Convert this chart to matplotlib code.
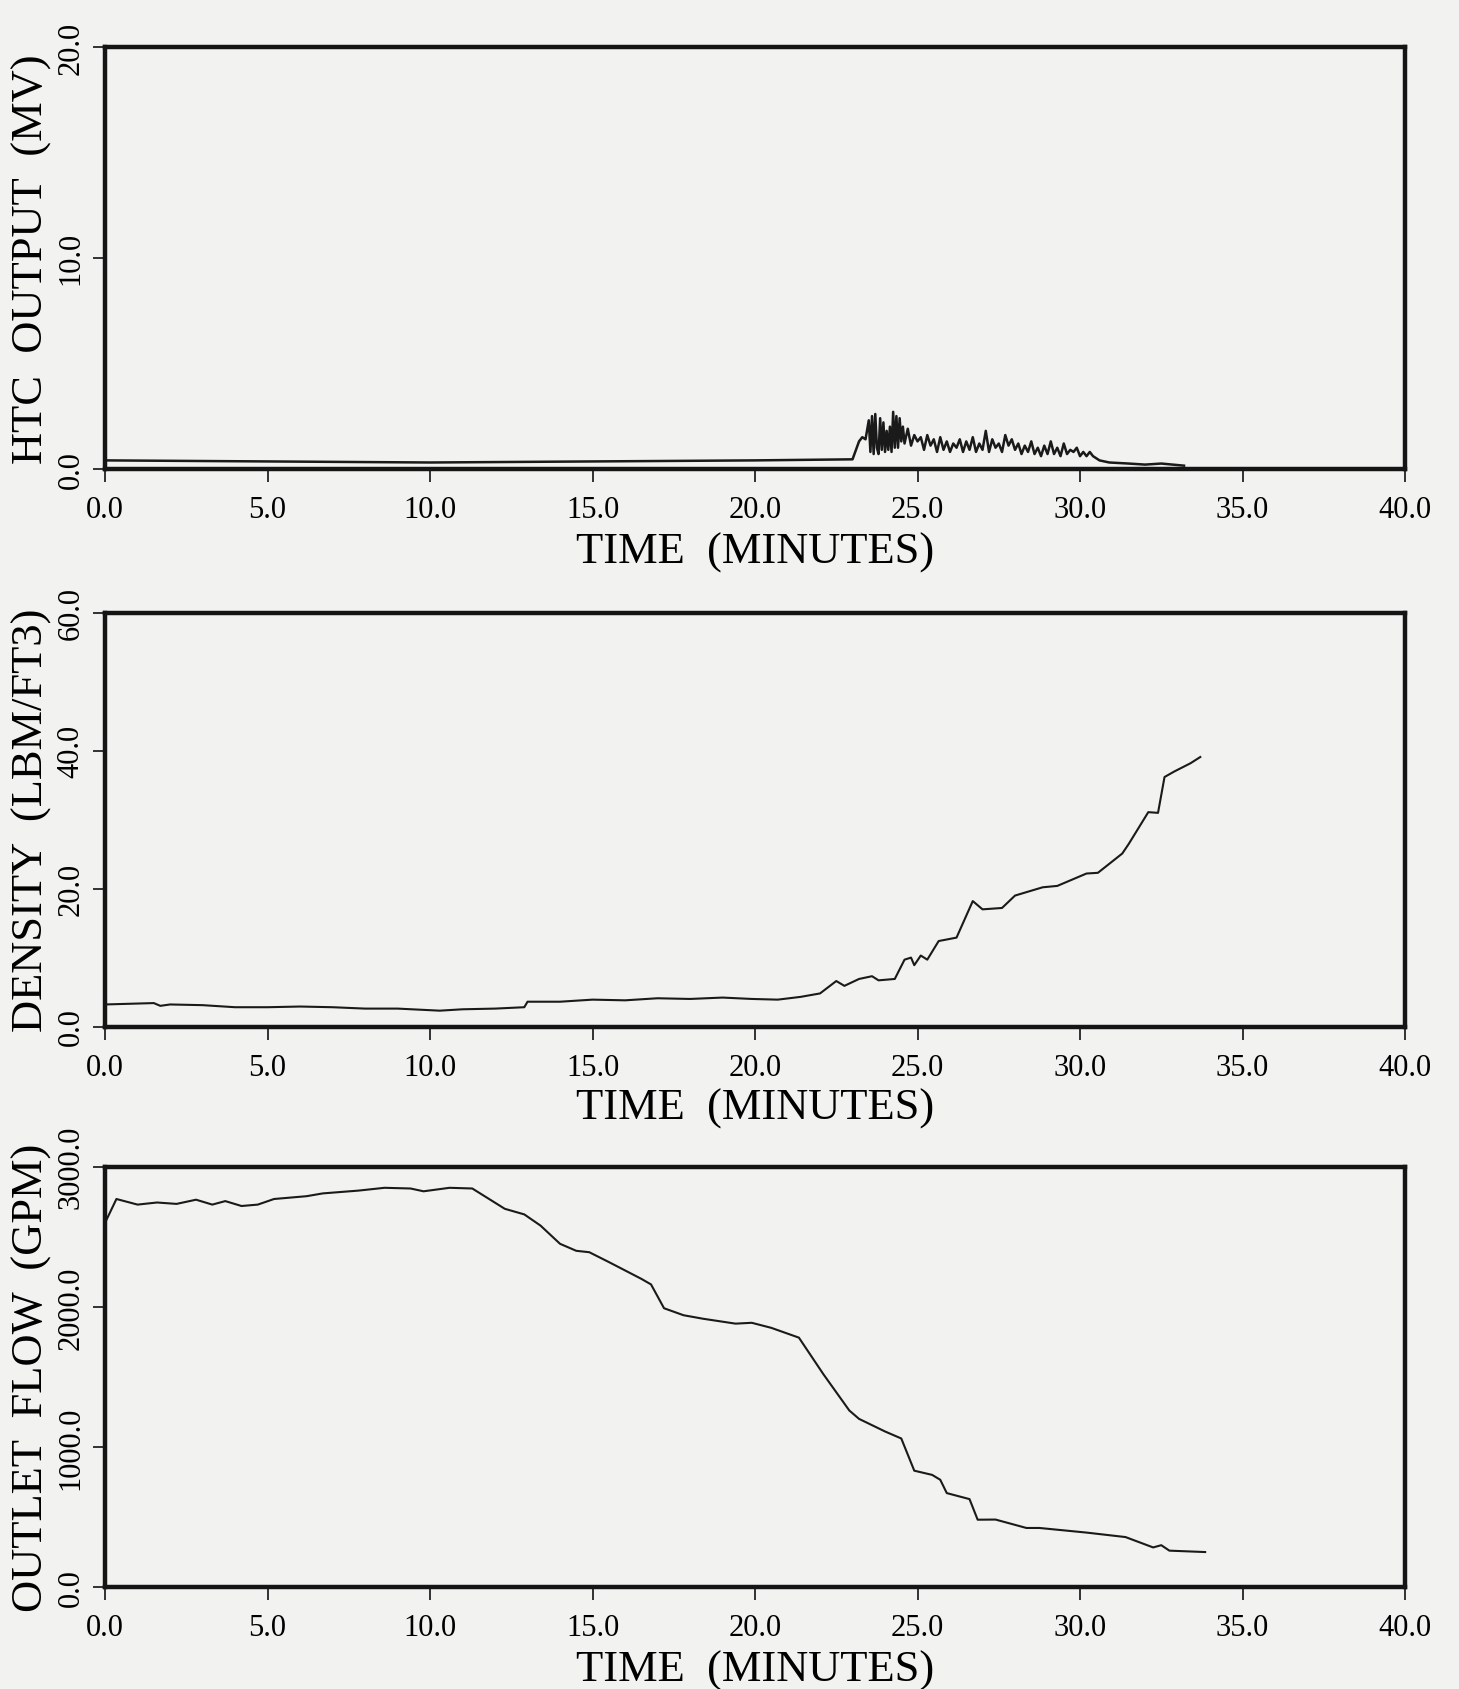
import matplotlib.pyplot as plt

# HTC output (MV) vs time (minutes)
htc_time = [0.0, 5.0, 10.0, 15.0, 20.0, 23.0,
            23.2, 23.3, 23.4, 23.5, 23.55, 23.6, 23.65, 23.7, 23.75, 23.8,
            23.85, 23.9, 23.95, 24.0, 24.05, 24.1, 24.15, 24.2, 24.25, 24.3,
            24.35, 24.4, 24.45, 24.5, 24.55, 24.6, 24.7, 24.8, 24.9, 25.0,
            25.1, 25.2, 25.3, 25.4, 25.5, 25.6, 25.7, 25.8, 25.9, 26.0,
            26.1, 26.2, 26.3, 26.4, 26.5, 26.6, 26.7, 26.8, 26.9, 27.0,
            27.1, 27.2, 27.3, 27.4, 27.5, 27.6, 27.7, 27.8, 27.9, 28.0,
            28.1, 28.2, 28.3, 28.4, 28.5, 28.6, 28.7, 28.8, 28.9, 29.0,
            29.1, 29.2, 29.3, 29.4, 29.5, 29.6, 29.7, 29.8, 29.9, 30.0,
            30.1, 30.2, 30.3, 30.4, 30.5, 30.6,
            30.9, 31.5, 32.0, 32.5, 33.2]
htc_mv = [0.40, 0.35, 0.30, 0.35, 0.40, 0.45,
          1.3, 1.5, 1.4, 2.3, 0.8, 2.5, 0.7, 2.6, 1.0, 0.7,
          2.4, 0.9, 2.2, 0.8, 1.8, 0.9, 2.0, 0.8, 2.7, 1.0,
          2.5, 1.0, 2.4, 1.3, 2.0, 1.2, 1.9, 1.1, 1.6, 1.3,
          1.5, 0.9, 1.6, 1.1, 1.4, 0.8, 1.5, 0.9, 1.3, 0.8,
          1.2, 1.0, 1.4, 0.8, 1.3, 0.9, 1.5, 0.8, 1.2, 0.9,
          1.8, 0.8, 1.4, 1.0, 1.2, 0.8, 1.6, 1.1, 1.4, 0.9,
          1.2, 0.7, 1.1, 0.8, 1.3, 0.7, 1.0, 0.6, 1.1, 0.7,
          1.3, 0.7, 1.0, 0.6, 1.2, 0.7, 0.9, 0.8, 1.0, 0.6,
          0.8, 0.6, 0.8, 0.6, 0.5, 0.4,
          0.30, 0.25, 0.20, 0.25, 0.15]

# density (LBM/FT3) vs time
dens_time = [0.0, 1.5, 1.7, 2.0, 3.0, 4.0, 5.0, 6.0, 7.0, 8.0, 9.0, 10.3,
             11.0, 12.0, 12.9, 13.0, 14.0, 15.0, 16.0, 17.0, 18.0, 19.0,
             19.9, 20.7, 21.4, 22.0, 22.5, 22.75, 23.2, 23.6, 23.8, 24.3,
             24.6, 24.8, 24.9, 25.1, 25.3, 25.65, 26.2, 26.7, 27.0, 27.6,
             28.0, 28.85, 29.3, 30.2, 30.55, 31.3, 31.5, 32.1, 32.4, 32.6,
             32.9, 33.4, 33.7]
dens_val = [3.2, 3.4, 3.0, 3.2, 3.1, 2.8, 2.8, 2.9, 2.8, 2.6, 2.6, 2.3,
            2.5, 2.6, 2.8, 3.6, 3.6, 3.9, 3.8, 4.1, 4.0, 4.2,
            4.0, 3.9, 4.3, 4.8, 6.6, 5.9, 6.9, 7.3, 6.7, 6.9,
            9.7, 10.0, 8.9, 10.3, 9.7, 12.4, 12.9, 18.2, 17.0, 17.2,
            19.0, 20.2, 20.4, 22.2, 22.3, 25.1, 26.5, 31.1, 31.0, 36.2,
            37.0, 38.2, 39.1]

# outlet flow (GPM) vs time
flow_time = [0.0, 0.35, 1.0, 1.6, 2.2, 2.8, 3.3, 3.7, 4.2, 4.7, 5.2, 6.2,
             6.7, 7.8, 8.6, 9.4, 9.8, 10.6, 11.3, 12.3, 12.9, 13.4, 14.0,
             14.5, 14.9, 15.5, 16.5, 16.8, 17.2, 17.8, 18.4, 19.4, 19.9,
             20.5, 21.35, 22.1, 22.9, 23.2, 24.0, 24.5, 24.9, 25.45, 25.7,
             25.9, 26.6, 26.85, 27.4, 28.35, 28.75, 30.2, 31.4, 32.25, 32.5,
             32.75, 33.85]
flow_gpm = [2600, 2770, 2730, 2745, 2735, 2765, 2730, 2755, 2720, 2730, 2770, 2790,
            2810, 2830, 2850, 2845, 2825, 2850, 2845, 2700, 2660, 2580, 2450,
            2400, 2390, 2320, 2200, 2160, 1990, 1940, 1915, 1880, 1886,
            1850, 1780, 1520, 1260, 1200, 1110, 1060, 830, 800, 765,
            670, 627, 480, 481, 421, 421, 388, 356, 282, 298,
            259, 249]

x_ticks = [0, 5, 10, 15, 20, 25, 30, 35, 40]

plt.rcParams['font.family'] = ['Liberation Serif', 'DejaVu Serif']
bg = '#f2f2f0'


def setup_axes(ax, ylim, yticks, ylabel):
    ax.set_facecolor(bg)
    ax.set_xlim(0, 40)
    ax.set_ylim(*ylim)
    ax.set_xticks(x_ticks)
    ax.set_xticklabels([f'{v:.1f}' for v in x_ticks])
    ax.set_yticks(yticks)
    ax.set_yticklabels([f'{v:.1f}' for v in yticks], rotation=90, va='center')
    for s in ax.spines.values():
        s.set_linewidth(3.2)
        s.set_color('#151515')
    ax.tick_params(axis='both', direction='out', length=9, width=1.3,
                   labelsize=22, color='#222222')
    ax.tick_params(axis='x', pad=10)
    ax.tick_params(axis='y', pad=5)
    ax.set_xlabel('TIME  (MINUTES)', fontsize=32)
    ax.xaxis.set_label_coords(0.5, -0.148)
    ax.set_ylabel(ylabel, fontsize=32)
    ax.yaxis.set_label_coords(-0.041, 0.5)


fig = plt.figure(figsize=(14.59, 16.9), dpi=100, facecolor=bg)

ax1 = fig.add_axes([0.072, 0.722, 0.891, 0.2496])
ax1.plot(htc_time, htc_mv, color='#1a1a1a', lw=1.8)
setup_axes(ax1, (0, 20), [0, 10, 20], 'HTC  OUTPUT  (MV)')

ax2 = fig.add_axes([0.072, 0.392, 0.891, 0.2447])
ax2.plot(dens_time, dens_val, color='#1a1a1a', lw=1.5)
setup_axes(ax2, (0, 60), [0, 20, 40, 60], 'DENSITY  (LBM/FT3)')

ax3 = fig.add_axes([0.072, 0.0604, 0.891, 0.2486])
ax3.plot(flow_time, flow_gpm, color='#1a1a1a', lw=1.5)
setup_axes(ax3, (0, 3000), [0, 1000, 2000, 3000], 'OUTLET  FLOW  (GPM)')

fig.savefig('out.png', dpi=100, facecolor=bg)
